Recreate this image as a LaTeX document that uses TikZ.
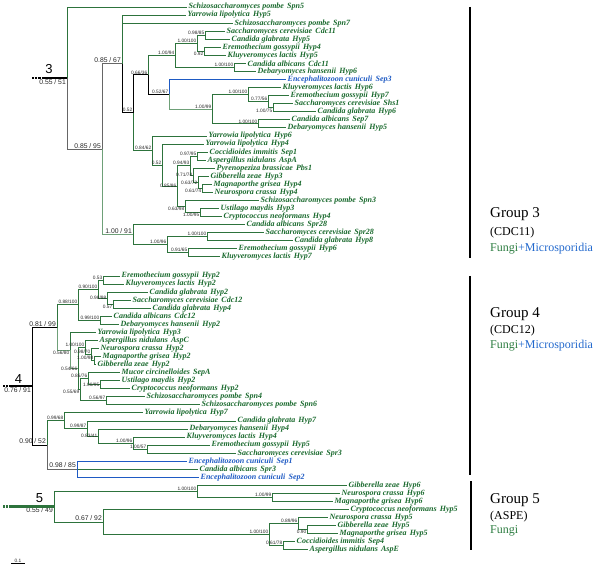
\documentclass[tikz,border=0pt]{standalone}
\usepackage{fontspec}
\setmainfont{Liberation Serif}
\setsansfont{Liberation Sans}
\usetikzlibrary{calc}
\tikzset{>=latex}
\definecolor{leafgreen}{RGB}{25,105,45}
\definecolor{brgreen}{RGB}{45,115,60}
\definecolor{brlight}{RGB}{110,160,120}
\definecolor{leafblue}{RGB}{30,90,195}
\definecolor{fungigreen}{RGB}{45,125,65}
\definecolor{microblue}{RGB}{35,105,205}

\begin{document}
\begin{tikzpicture}[x=1pt,y=-1pt,
		leaf/.style={anchor=west, inner sep=1.5pt, text=leafgreen,
			font=\fontsize{8}{9}\selectfont\bfseries\itshape},
		leafb/.style={leaf, text=leafblue},
		br/.style={draw=brgreen, line width=0.8pt},
		brk/.style={draw=black, line width=0.8pt},
		brg/.style={draw=black!60, line width=0.8pt},
		brl/.style={draw=brlight, line width=0.8pt},
		brb/.style={draw=leafblue, line width=0.8pt},
		sv/.style={anchor=south east, inner sep=0.6pt, text=black!85,
			font=\sffamily\fontsize{4.8}{5}\selectfont},
		svb/.style={sv, anchor=north east},
		svl/.style={sv, anchor=east},
		svbig/.style={sv, inner sep=1pt, font=\sffamily\fontsize{6.8}{8}\selectfont},
		svbigb/.style={svbig, anchor=north east},
		stub/.style={line width=2.4pt},
		stubdots/.style={line width=2.4pt, dash pattern=on 0.7pt off 0.7pt},
		grpnum/.style={anchor=base, inner sep=0pt, font=\sffamily\fontsize{13}{15}\selectfont},
		gbar/.style={line width=1.8pt},
		grp/.style={anchor=base west, inner sep=0pt, font=\fontsize{15}{17}\selectfont},
		grpsub/.style={anchor=base west, inner sep=0pt, font=\fontsize{12}{14}\selectfont},
	]
	\useasboundingbox (0,0) rectangle (600,572);

	% group 3
	\coordinate (r3) at (67,78.15);
	\coordinate (g3a) at (102,149.29);
	\coordinate (g3b) at (122,63.88);
	\coordinate (g3c) at (133,112.70);
	\coordinate (g3d) at (148,74.88);
	\coordinate (g3e) at (175,55.36);
	\coordinate (g3f) at (197,43.27);
	\coordinate (g3g) at (205,35.21);
	\coordinate (g3h) at (204,51.33);
	\coordinate (g3j) at (234,67.45);
	\coordinate (g3k) at (169,94.40);
	\coordinate (g3l) at (212,109.26);
	\coordinate (g3m) at (248,94.65);
	\coordinate (g3m2) at (268,101.70);
	\coordinate (g3m3) at (273,107.75);
	\coordinate (g3n) at (258,123.87);
	\coordinate (g3p) at (152,150.51);
	\coordinate (g3q) at (162,165.06);
	\coordinate (g3r) at (177,186.09);
	\coordinate (g3s) at (190,165.69);
	\coordinate (g3t) at (197,156.11);
	\coordinate (g3u) at (193,175.26);
	\coordinate (g3v) at (198,182.31);
	\coordinate (g3w) at (202,188.35);
	\coordinate (g3x) at (185,206.49);
	\coordinate (g3y) at (200,212.53);
	\coordinate (g3z) at (133,234.70);
	\coordinate (g3z2) at (167,244.77);
	\coordinate (g3zb) at (207,236.71);
	\coordinate (g3za) at (188,252.83);

	% group 4
	\coordinate (r4) at (32,386.25);
	\coordinate (g4a) at (57,327.57);
	\coordinate (g4n88) at (78,304.68);
	\coordinate (g4n90) at (98,289.08);
	\coordinate (g4n53) at (103,280.03);
	\coordinate (g4n98) at (107,298.14);
	\coordinate (g4n57) at (113,304.18);
	\coordinate (g4n99) at (100,320.28);
	\coordinate (g4n56) at (70,350.46);
	\coordinate (g4n54) at (78,368.58);
	\coordinate (g4n1100) at (85,347.44);
	\coordinate (g4n970) at (91,354.49);
	\coordinate (g4n198) at (94,360.53);
	\coordinate (g4n55) at (80,389.71);
	\coordinate (g4n86) at (88,378.64);
	\coordinate (g4n195) at (100,384.68);
	\coordinate (g4n5697) at (106,400.78);
	\coordinate (g4n9052) at (47,444.93);
	\coordinate (g4n9968) at (64,420.65);
	\coordinate (g4n9987) at (87,428.45);
	\coordinate (g4n8341) at (98,436.00);
	\coordinate (g4n100) at (133,443.04);
	\coordinate (g4n157) at (147,449.08);
	\coordinate (g4n9885) at (77,469.20);

	% group 5
	\coordinate (r5) at (54,506.69);
	\coordinate (g5a) at (197,491.34);
	\coordinate (g5b) at (272,497.38);
	\coordinate (g5c) at (103,522.03);
	\coordinate (g5d) at (269,534.61);
	\coordinate (g5e) at (298,523.54);
	\coordinate (g5f) at (307,529.58);
	\coordinate (g5g) at (283,545.68);

	\foreach \pa/\ch/\st in {r3/g3a/brg, g3a/g3b/brg, g3a/g3z/brl, g3b/g3c/brk,
			g3c/g3d/brk, g3c/g3p/br, g3d/g3e/br, g3d/g3k/brk, g3e/g3f/br, g3e/g3j/br,
			g3f/g3g/br, g3f/g3h/br, g3k/g3l/brl, g3l/g3m/br, g3l/g3n/br, g3m/g3m2/br,
			g3m2/g3m3/br, g3p/g3q/br, g3q/g3r/br, g3r/g3s/br, g3r/g3x/br, g3s/g3t/br,
			g3s/g3u/br, g3u/g3v/br, g3v/g3w/br, g3x/g3y/br, g3z/g3z2/br, g3z2/g3zb/br,
			g3z2/g3za/br,
			r4/g4a/brk, r4/g4n9052/brk, g4a/g4n88/br, g4a/g4n56/brl, g4n88/g4n90/br,
			g4n88/g4n99/br, g4n90/g4n53/br, g4n90/g4n98/br, g4n98/g4n57/br,
			g4n56/g4n54/brl, g4n54/g4n1100/br, g4n54/g4n55/br, g4n1100/g4n970/br,
			g4n970/g4n198/br, g4n55/g4n86/br, g4n55/g4n5697/br, g4n86/g4n195/br,
			g4n9052/g4n9968/br, g4n9052/g4n9885/brg, g4n9968/g4n9987/br,
			g4n9987/g4n8341/br, g4n8341/g4n100/br, g4n100/g4n157/br,
			r5/g5a/br, r5/g5c/br, g5a/g5b/br, g5c/g5d/br, g5d/g5e/br, g5d/g5g/br,
			g5e/g5f/br}
	{
		\draw[\st] (\pa) |- (\ch);
	}

	\foreach \nm/\pa/\yy/\xe/\sp/\gn in {
			Sp-Spn5/r3/7.00/187/Schizosaccharomyces pombe/Spn5,
			Yl-Hyp5/g3b/15.06/186/Yarrowia lipolytica/Hyp5,
			Sp-Spn7/g3b/23.12/233/Schizosaccharomyces pombe/Spn7,
			Sc-Cdc11/g3g/31.18/225/Saccharomyces cerevisiae/Cdc11,
			Cg-Hyp5/g3g/39.24/230/Candida glabrata/Hyp5,
			Eg-Hyp4/g3h/47.30/221/Eremothecium gossypii/Hyp4,
			Kl-Hyp5/g3h/55.36/226/Kluyveromyces lactis/Hyp5,
			Ca-Cdc11/g3j/63.42/246/Candida albicans/Cdc11,
			Dh-Hyp6/g3j/71.48/256/Debaryomyces hansenii/Hyp6,
			Kl-Hyp6/g3m/87.60/281/Kluyveromyces lactis/Hyp6,
			Eg-Hyp7/g3m2/95.66/289/Eremothecium gossypii/Hyp7,
			Sc-Shs1/g3m3/103.72/293/Saccharomyces cerevisiae/Shs1,
			Cg-Hyp6/g3m3/111.78/316/Candida glabrata/Hyp6,
			Ca-Sep7/g3n/119.84/290/Candida albicans/Sep7,
			Dh-Hyp5/g3n/127.90/286/Debaryomyces hansenii/Hyp5,
			Yl-Hyp6/g3p/135.96/207/Yarrowia lipolytica/Hyp6,
			Yl-Hyp4/g3q/144.02/204/Yarrowia lipolytica/Hyp4,
			Ci-Sep1/g3t/152.08/208/Coccidioides immitis/Sep1,
			An-AspA/g3t/160.14/206/Aspergillus nidulans/AspA,
			Pb-Pbs1/g3u/168.20/215/Pyrenopeziza brassicae/Pbs1,
			Gz-Hyp3/g3v/176.26/209/Gibberella zeae/Hyp3,
			Mg-Hyp4/g3w/184.32/212/Magnaporthe grisea/Hyp4,
			Nc-Hyp4/g3w/192.38/213/Neurospora crassa/Hyp4,
			Sp-Spn3/g3x/200.44/259/Schizosaccharomyces pombe/Spn3,
			Um-Hyp3/g3y/208.50/219/Ustilago maydis/Hyp3,
			Cn-Hyp4/g3y/216.56/222/Cryptococcus neoformans/Hyp4,
			Ca-Spr28/g3z/224.62/245/Candida albicans/Spr28,
			Sc-Spr28/g3zb/232.68/264/Saccharomyces cerevisiae/Spr28,
			Cg-Hyp8/g3zb/240.74/293/Candida glabrata/Hyp8,
			Eg-Hyp6/g3za/248.80/237/Eremothecium gossypii/Hyp6,
			Kl-Hyp7/g3za/256.86/220/Kluyveromyces lactis/Hyp7,
			Eg-Hyp2/g4n53/276.00/120/Eremothecium gossypii/Hyp2,
			Kl-Hyp2/g4n53/284.05/124/Kluyveromyces lactis/Hyp2,
			Cg-Hyp2/g4n98/292.10/148/Candida glabrata/Hyp2,
			Sc-Cdc12/g4n57/300.15/131/Saccharomyces cerevisiae/Cdc12,
			Cg-Hyp4/g4n57/308.20/151/Candida glabrata/Hyp4,
			Ca-Cdc12/g4n99/316.25/112/Candida albicans/Cdc12,
			Dh-Hyp2/g4n99/324.30/119/Debaryomyces hansenii/Hyp2,
			Yl-Hyp3/g4n56/332.35/96/Yarrowia lipolytica/Hyp3,
			An-AspC/g4n1100/340.40/98/Aspergillus nidulans/AspC,
			Nc-Hyp2/g4n970/348.45/99/Neurospora crassa/Hyp2,
			Mg-Hyp2/g4n198/356.50/101/Magnaporthe grisea/Hyp2,
			Gz-Hyp2/g4n198/364.55/96/Gibberella zeae/Hyp2,
			Mc-SepA/g4n86/372.60/120/Mucor circinelloides/SepA,
			Um-Hyp2/g4n195/380.65/120/Ustilago maydis/Hyp2,
			Cn-Hyp2/g4n195/388.70/130/Cryptococcus neoformans/Hyp2,
			Sp-Spn4/g4n5697/396.75/145/Schizosaccharomyces pombe/Spn4,
			Sp-Spn6/g4n5697/404.80/200/Schizosaccharomyces pombe/Spn6,
			Yl-Hyp7/g4n9968/412.85/143/Yarrowia lipolytica/Hyp7,
			Cg-Hyp7/g4n9987/420.90/236/Candida glabrata/Hyp7,
			Dh-Hyp4/g4n8341/428.95/188/Debaryomyces hansenii/Hyp4,
			Kl-Hyp4/g4n100/437.00/185/Kluyveromyces lactis/Hyp4,
			Eg-Hyp5/g4n157/445.05/210/Eremothecium gossypii/Hyp5,
			Sc-Spr3/g4n157/453.10/236/Saccharomyces cerevisiae/Spr3,
			Ca-Spr3/g4n9885/469.20/198/Candida albicans/Spr3,
			Gz-Hyp6/g5a/485.30/347/Gibberella zeae/Hyp6,
			Nc-Hyp6/g5b/493.35/340/Neurospora crassa/Hyp6,
			Mg-Hyp6/g5b/501.40/333/Magnaporthe grisea/Hyp6,
			Cn-Hyp5/g5c/509.45/349/Cryptococcus neoformans/Hyp5,
			Nc-Hyp5/g5e/517.50/328/Neurospora crassa/Hyp5,
			Gz-Hyp5/g5f/525.55/336/Gibberella zeae/Hyp5,
			Mg-Hyp5/g5f/533.60/338/Magnaporthe grisea/Hyp5,
			Ci-Sep4/g5g/541.65/295/Coccidioides immitis/Sep4,
			An-AspE/g5g/549.70/308/Aspergillus nidulans/AspE}
	{
		\node[leaf] (\nm) at (\xe,\yy) {\sp\hspace{0.4em}\gn};
		\draw[br] (\pa) |- (\nm.west);
	}

	% microsporidia
	\foreach \nm/\pa/\yy/\xe/\gn in {Ec-Sep3/g3k/79.54/286/Sep3,
			Ec-Sep1/g4n9885/461.15/187/Sep1, Ec-Sep2/g4n9885/477.25/199/Sep2}
	{
		\node[leafb] (\nm) at (\xe,\yy) {Encephalitozoon cuniculi\hspace{0.4em}\gn};
		\draw[brb] (\pa) |- (\nm.west);
	}

	\foreach \nd/\tx/\ps in {r3/{0.55 / 51}/svbigb, g3a/{0.85 / 95}/svbig,
			g3b/{0.85 / 67}/svbig, g3c/{0.52}/sv, g3d/{0.66/36}/sv, g3e/{1.00/94}/sv,
			g3f/{1.00/100}/sv, g3g/{0.98/85}/sv, g3h/{0.92}/svb, g3j/{1.00/100}/sv,
			g3k/{0.52/67}/sv, g3l/{1.00/99}/sv, g3m/{1.00/100}/sv, g3m2/{0.77/56}/sv,
			g3m3/{1.00/75}/svb, g3n/{1.00/100}/sv, g3p/{0.84/62}/sv, g3q/{0.52}/sv,
			g3r/{0.85/86}/svl, g3s/{0.94/93}/sv, g3t/{0.97/95}/sv, g3u/{0.71/74}/svl,
			g3v/{0.63/72}/svl, g3w/{0.61/74}/svb, g3x/{0.63/98}/svb, g3y/{1.00/95}/svb,
			g3z/{1.00 / 91}/svbig, g3z2/{1.00/96}/sv, g3zb/{1.00/100}/sv,
			g3za/{0.91/65}/sv,
			r4/{0.76 / 91}/svbigb, g4a/{0.81 / 99}/svbig, g4n88/{0.88/100}/sv,
			g4n90/{0.90/100}/sv, g4n53/{0.53}/sv, g4n98/{0.98/98}/svl, g4n57/{0.57}/svb,
			g4n99/{0.99/100}/sv, g4n56/{0.56/80}/svb, g4n54/{0.54/66}/svl,
			g4n1100/{1.00/100}/sv, g4n970/{0.98/70}/sv, g4n198/{1.00/98}/sv,
			g4n55/{0.55/69}/svb, g4n86/{0.86/76}/sv, g4n195/{1.00/95}/svl,
			g4n5697/{0.56/97}/sv, g4n9052/{0.90 / 52}/svbig, g4n9968/{0.99/68}/sv,
			g4n9987/{0.99/87}/sv, g4n8341/{0.83/41}/svl, g4n100/{1.00/96}/sv,
			g4n157/{1.00/57}/sv, g4n9885/{0.98 / 85}/svbig,
			r5/{0.55 / 49}/svbigb, g5a/{1.00/100}/sv, g5b/{1.00/99}/sv,
			g5c/{0.67 / 92}/svbig, g5d/{1.00/100}/sv, g5e/{0.89/96}/sv, g5f/{0.90}/svb,
			g5g/{0.61/78}/sv}
	{
		\node[\ps] (lab-\nd) at (\nd) {\tx};
	}

	% root stubs
	\coordinate (r3s) at (32,78.15);
	\coordinate (r3m) at (42,78.15);
	\coordinate (r4s) at (3,386.25);
	\coordinate (r4m) at (12,386.25);
	\coordinate (r5s) at (3,506.69);
	\coordinate (r5m) at (10,506.69);
	\draw[stubdots] (r3s) -- (r3m);
	\draw[stub] (r3m) -- (r3);
	\draw[stubdots] (r4s) -- (r4m);
	\draw[stub] (r4m) -- (r4);
	\draw[stubdots, brgreen] (r5s) -- (r5m);
	\draw[stub, brgreen] (r5m) -- (r5);
	\node[grpnum] (num3) at (49,74) {3};
	\node[grpnum] (num4) at (18.5,383) {4};
	\node[grpnum] (num5) at (39.5,502) {5};

	% group bars
	\coordinate (bar3t) at (470,7);
	\coordinate (bar3b) at (470,258);
	\coordinate (bar4t) at (470,276);
	\coordinate (bar4b) at (470,475);
	\coordinate (bar5t) at (471,481);
	\coordinate (bar5b) at (471,550);
	\draw[gbar] (bar3t) -- (bar3b);
	\draw[gbar] (bar4t) -- (bar4b);
	\draw[gbar] (bar5t) -- (bar5b);

	\node[grp] (grp3) at (490,218) {Group 3};
	\node[grpsub] (sub3) at (490,236) {(CDC11)};
	\node[grpsub] (tax3) at (490,252) {\textcolor{fungigreen}{Fungi}\textcolor{microblue}{+Microsporidia}};
	\node[grp] (grp4) at (490,317) {Group 4};
	\node[grpsub] (sub4) at (490,333) {(CDC12)};
	\node[grpsub] (tax4) at (490,348) {\textcolor{fungigreen}{Fungi}\textcolor{microblue}{+Microsporidia}};
	\node[grp] (grp5) at (490,503) {Group 5};
	\node[grpsub] (sub5) at (490,519) {(ASPE)};
	\node[grpsub] (tax5) at (490,533) {\textcolor{fungigreen}{Fungi}};

	% scale bar
	\coordinate (sb1) at (11,563);
	\coordinate (sb2) at (25,563);
	\draw[line width=0.6pt] (sb1) -- (sb2) node[midway, sv, anchor=south] (sbl) {0.1};
\end{tikzpicture}
\end{document}
